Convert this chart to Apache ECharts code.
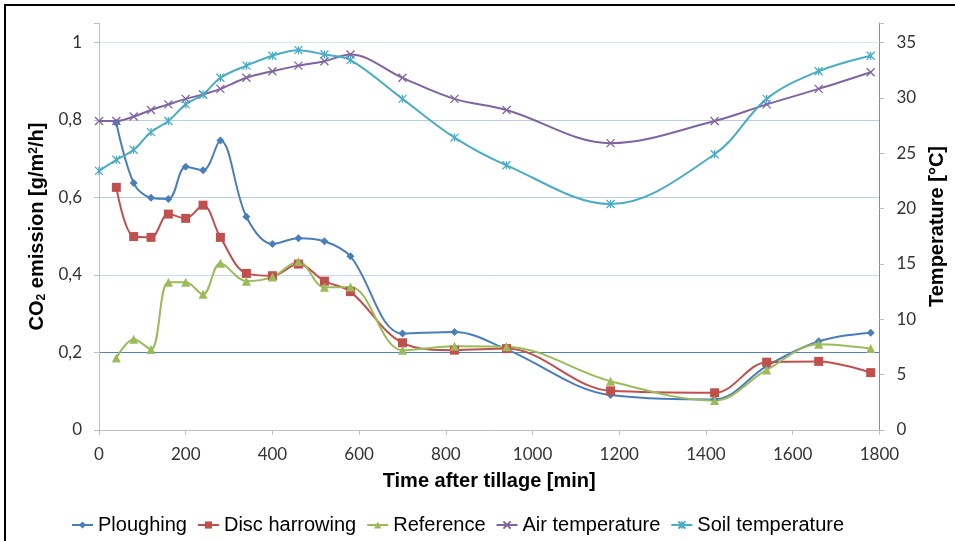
<!DOCTYPE html>
<html>
<head>
<meta charset="utf-8">
<script src="https://cdn.jsdelivr.net/npm/echarts@6/dist/echarts.min.js"></script>
<style>
  html, body { margin: 0; padding: 0; background: #fff; }
  #chart { width: 955px; height: 541px; }
</style>
</head>
<body>
<div id="chart"></div>
<script>
// emission sampling times [min]
var emissionTimes = [40, 80, 120, 160, 200, 240, 280, 340, 400, 460, 520, 580, 700, 820, 940, 1180, 1420, 1540, 1660, 1780];
// CO2 emission [g/m2/h]
var ploughing = [0.792, 0.637, 0.599, 0.596, 0.679, 0.670, 0.747, 0.550, 0.480, 0.495, 0.487, 0.448, 0.249, 0.253, 0.208, 0.090, 0.079, 0.165, 0.229, 0.251];
var discHarrowing = [0.626, 0.499, 0.497, 0.557, 0.546, 0.580, 0.497, 0.404, 0.398, 0.428, 0.384, 0.357, 0.225, 0.206, 0.210, 0.101, 0.096, 0.175, 0.177, 0.148];
var reference = [0.186, 0.234, 0.208, 0.381, 0.381, 0.350, 0.430, 0.384, 0.395, 0.435, 0.368, 0.369, 0.206, 0.216, 0.215, 0.126, 0.076, 0.155, 0.221, 0.210];
// temperature sampling times [min]
var tempTimes = [0, 40, 80, 120, 160, 200, 240, 280, 340, 400, 460, 520, 580, 700, 820, 940, 1180, 1420, 1540, 1660, 1780];
// temperature [°C]
var airTemp = [27.9, 27.9, 28.3, 28.9, 29.4, 29.9, 30.3, 30.8, 31.8, 32.4, 32.9, 33.3, 33.9, 31.8, 29.9, 28.9, 25.9, 27.9, 29.4, 30.8, 32.3];
var soilTemp = [23.4, 24.4, 25.3, 26.9, 27.9, 29.4, 30.3, 31.8, 32.9, 33.8, 34.3, 33.9, 33.4, 29.9, 26.4, 23.9, 20.4, 24.9, 29.9, 32.4, 33.8];

function pairs(xs, ys) {
  return xs.map(function (x, i) { return [x, ys[i]]; });
}

var crossPath = 'path://M0,0L10,10M10,0L0,10';
var starPath = 'path://M0,0L10,10M10,0L0,10M5,0L5,10';

function lineSeries(name, data, color, symbol, size, yIndex, stroke) {
  return {
    name: name,
    type: 'line',
    yAxisIndex: yIndex,
    data: data,
    smooth: 0.35,
    symbol: symbol,
    symbolSize: size,
    showAllSymbol: true,
    lineStyle: { color: color, width: 2 },
    itemStyle: stroke ? { color: color, borderColor: color, borderWidth: 1.3 } : { color: color },
    emphasis: { disabled: true }
  };
}

var myChart = echarts.init(document.getElementById('chart'));
var option = {
  animation: false,
  grid: { left: 99, right: 72, top: 23, bottom: 111 },
  graphic: [{
    type: 'rect',
    silent: true,
    shape: { x: 5, y: 5, width: 1000, height: 600 },
    style: { fill: 'none', stroke: '#000', lineWidth: 2 }
  }],
  legend: {
    left: 66,
    top: 510,
    itemGap: 10,
    itemWidth: 21,
    itemHeight: 9,
    textStyle: { fontFamily: 'Liberation Sans', fontSize: 20, color: '#000' },
    data: ['Ploughing', 'Disc harrowing', 'Reference', 'Air temperature', 'Soil temperature']
  },
  xAxis: {
    type: 'value',
    min: 0,
    max: 1800,
    interval: 200,
    name: 'Time after tillage [min]',
    nameLocation: 'middle',
    nameGap: 41,
    nameTextStyle: { fontFamily: 'Liberation Sans', fontWeight: 'bold', fontSize: 20, color: '#000', verticalAlign: 'top' },
    axisLine: { lineStyle: { color: '#bfbfbf', width: 1 } },
    axisTick: { show: true, length: 5, lineStyle: { color: '#bfbfbf' } },
    axisLabel: {
      margin: 16,
      fontFamily: 'Lato',
      fontSize: 17,
      color: '#333',
      formatter: function (v) { return String(v); }
    },
    splitLine: { show: false }
  },
  yAxis: [{
    type: 'value',
    min: 0,
    max: 1.05,
    interval: 0.2,
    name: '{a|CO}{s|2}{a| emission [g/m}{p|2}{a|/h]}',
    nameLocation: 'middle',
    nameGap: 49,
    nameTextStyle: {
      color: '#000',
      rich: {
        a: { fontFamily: 'Liberation Sans', fontWeight: 'bold', fontSize: 20, color: '#000' },
        s: { fontFamily: 'Liberation Sans', fontWeight: 'bold', fontSize: 12, color: '#000', verticalAlign: 'bottom', padding: [8, 0, 0, 0] },
        p: { fontFamily: 'Liberation Sans', fontWeight: 'bold', fontSize: 12, color: '#000', verticalAlign: 'top', padding: [0, 0, 8, 0] }
      }
    },
    axisLine: { show: true, lineStyle: { color: '#bfbfbf', width: 1 } },
    axisTick: { show: true, length: 5, lineStyle: { color: '#bfbfbf' } },
    axisLabel: {
      margin: 17,
      fontFamily: 'Lato',
      fontSize: 17,
      color: '#333',
      formatter: function (v) {
        if (v > 1.01) return '';
        return String(+v.toFixed(1)).replace('.', ',');
      }
    },
    splitLine: {
      show: true,
      lineStyle: {
        width: 1,
        color: ['rgba(0,0,0,0)', '#4f81bd', '#c6d9f0', '#b9cde5', '#b9cde5', '#dbe5f1', 'rgba(0,0,0,0)']
      }
    }
  }, {
    type: 'value',
    min: 0,
    max: 36.75,
    interval: 5,
    name: 'Temperature [°C]',
    nameLocation: 'middle',
    nameGap: 40,
    nameRotate: 90,
    nameTextStyle: { fontFamily: 'Liberation Sans', fontWeight: 'bold', fontSize: 20, color: '#000' },
    axisLine: { show: true, lineStyle: { color: '#8c8c8c', width: 1 } },
    axisTick: { show: true, length: 5, lineStyle: { color: '#bfbfbf' } },
    axisLabel: {
      margin: 17,
      fontFamily: 'Lato',
      fontSize: 17,
      color: '#333',
      formatter: function (v) { return v > 35 ? '' : String(v); }
    },
    splitLine: { show: false }
  }],
  series: [
    lineSeries('Ploughing', pairs(emissionTimes, ploughing), '#4a7ebb', 'diamond', 8, 0),
    lineSeries('Disc harrowing', pairs(emissionTimes, discHarrowing), '#c0504d', 'rect', 9, 0),
    lineSeries('Reference', pairs(emissionTimes, reference), '#9bbb59', 'triangle', 9, 0),
    lineSeries('Air temperature', pairs(tempTimes, airTemp), '#8064a2', crossPath, 8, 1, true),
    lineSeries('Soil temperature', pairs(tempTimes, soilTemp), '#4bacc6', starPath, 8, 1, true)
  ]
};
myChart.setOption(option);
window.addEventListener('resize', function () { myChart.resize(); });
</script>
</body>
</html>
